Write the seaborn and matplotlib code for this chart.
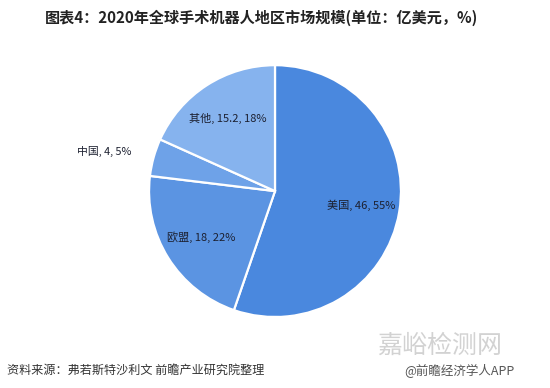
import numpy as np
import matplotlib
matplotlib.use("Agg")
import matplotlib.pyplot as plt
import seaborn as sns

# data (亿美元)
regions = ["美国", "欧盟", "中国", "其他"]
values = [46, 18, 4, 15.2]
shares = [55, 22, 5, 18]
colors = ["#4a88de", "#5b94e2", "#6ea2e8", "#86b3ee"]

sns.set_theme(style="white")
plt.rcParams["font.family"] = ["Noto Sans CJK SC", "DejaVu Sans"]

fig = plt.figure(figsize=(5.5, 3.88), dpi=100)
fig.patch.set_facecolor("white")

ax = fig.add_axes([0.5 - 0.229, 0.508 - 0.325, 0.458, 0.649])
wedges, _ = ax.pie(values, colors=colors, startangle=90, counterclock=False,
                   radius=1, wedgeprops=dict(edgecolor="white", linewidth=1.6))
ax.set_xlim(-1, 1)
ax.set_ylim(-1, 1)
ax.set_aspect("auto")
ax.axis("off")

# labels: inside for big slices, outside for the small one
for w, name, v, s in zip(wedges, regions, values, shares):
    ang = np.deg2rad((w.theta1 + w.theta2) / 2)
    txt = f"{name}, {v:g}, {s}%"
    if s < 10:
        r = 1.18
        ax.text(r * np.cos(ang), r * np.sin(ang), txt, ha="right", va="center",
                fontsize=7.8, color="#1c2030")
    else:
        r = 0.69
        ax.text(r * np.cos(ang), r * np.sin(ang), txt, ha="center", va="center",
                fontsize=8, color="#1c2030")

fig.text(0.475, 0.953, "图表4：2020年全球手术机器人地区市场规模(单位：亿美元，%)",
         ha="center", va="center", fontsize=10.9, fontweight="bold", color="#222222")
fig.text(0.013, 0.045, "资料来源：弗若斯特沙利文 前瞻产业研究院整理",
         ha="left", va="center", fontsize=8.7, color="#333333")
fig.text(0.8, 0.11, "嘉峪检测网", ha="center", va="center",
         fontsize=18, color="#d2d2d2", zorder=0)
fig.text(0.936, 0.045, "@前瞻经济学人APP",
         ha="right", va="center", fontsize=9, color="#555555")

fig.savefig("out.png", dpi=100, facecolor="white")
